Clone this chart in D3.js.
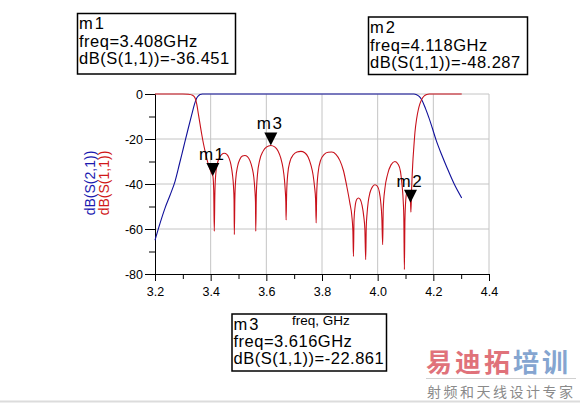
<!DOCTYPE html>
<html>
<head>
<meta charset="utf-8">
<script src="https://cdn.jsdelivr.net/npm/d3@7"></script>
<style>
  body { margin: 0; background: #fff; }
  svg { display: block; font-family: "Liberation Sans", Arial, sans-serif; }
</style>
</head>
<body>
<script>
'use strict';

var width = 580, height = 403;

// S21 trace (blue)
var s21Freq = [3.2, 3.218, 3.236, 3.254, 3.272, 3.288, 3.302, 3.318, 3.332, 3.342, 3.35, 3.356, 3.362, 3.37,
  3.4, 3.6, 3.8, 4.0, 4.13, 4.14, 4.15, 4.16, 4.172, 4.184, 4.196, 4.21, 4.23, 4.25, 4.275, 4.302];
var s21dB = [-65, -57.5, -50.7, -45, -38.8, -31, -24, -16, -9.2, -4.5, -1.8, -0.8, -0.2, 0,
  0, 0, 0, 0, 0, -0.3, -1.2, -3, -6.5, -10.5, -15, -20.5, -27, -33, -40, -46.2];

// S11 trace (red)
var s11Freq = [3.2, 3.3, 3.32, 3.335, 3.344, 3.35, 3.356, 3.362, 3.368, 3.374, 3.38, 3.386, 3.392, 3.398, 3.403, 3.408, 3.411, 3.413,
  3.415, 3.418, 3.424, 3.432, 3.44, 3.449, 3.458, 3.466, 3.473, 3.478, 3.482, 3.484, 3.485,
  3.487, 3.49, 3.497, 3.505, 3.514, 3.523, 3.532, 3.541, 3.549, 3.555, 3.559, 3.561, 3.562,
  3.564, 3.568, 3.576, 3.588, 3.6, 3.616, 3.63, 3.642, 3.652, 3.66, 3.665, 3.668, 3.67, 3.671,
  3.673, 3.677, 3.685, 3.697, 3.71, 3.724, 3.738, 3.75, 3.76, 3.768, 3.773, 3.777, 3.779,
  3.781, 3.786, 3.795, 3.808, 3.822, 3.835, 3.85, 3.864, 3.877, 3.889, 3.9, 3.907, 3.911, 3.913,
  3.915, 3.919, 3.925, 3.931, 3.937, 3.944, 3.95, 3.954, 3.957,
  3.959, 3.962, 3.966, 3.972, 3.98, 3.99, 3.999, 4.006, 4.011, 4.015, 4.018,
  4.02, 4.026, 4.035, 4.048, 4.062, 4.074, 4.082, 4.088, 4.092, 4.094, 4.096,
  4.098, 4.101, 4.106, 4.111, 4.115, 4.118, 4.1195, 4.122, 4.126, 4.13, 4.134, 4.14, 4.146, 4.152, 4.158, 4.166, 4.176, 4.185, 4.302];
var s11dB = [0, 0, -0.1, -0.6, -1.8, -4.5, -9, -13.5, -18, -22, -25.5, -28.7, -31.4, -33.5, -35.2, -36.45, -43, -61,
  -45, -36, -31, -28.2, -26.8, -26.3, -26.8, -28.5, -31.5, -35.5, -41, -47, -62.5,
  -46, -38, -32, -29, -27.6, -27.3, -27.8, -29.6, -32.8, -37, -43, -48, -61,
  -45, -36, -29.5, -25.5, -23.6, -22.86, -23.5, -25.3, -28.5, -33, -38, -43, -48, -56,
  -44, -35.5, -30, -27, -25.8, -25.5, -26.1, -28, -31.5, -36, -41, -47, -57.3,
  -44, -35, -29.5, -26.8, -25.9, -25.8, -26.8, -29.5, -34, -41, -48.4, -54, -61, -72.2,
  -56, -50, -46.8, -46.2, -46.8, -49.5, -54.4, -60, -73.6,
  -59, -53, -48, -44, -41.5, -40.3, -41, -43.5, -48, -55, -67,
  -51, -42, -36, -31.5, -30, -31.3, -34.5, -41, -48, -55, -78,
  -56, -47, -43, -43.5, -46, -48.3, -52.5, -42, -31, -23.5, -17, -11, -7, -4.3, -2.5, -1, -0.2, 0, 0];

// markers
var markerNames = ['m1', 'm2', 'm3'];
var markerFreq = [3.408, 4.118, 3.616];
var markerDB = [-36.451, -48.287, -22.861];

// ticks
var xMajor = [3.2, 3.4, 3.6, 3.8, 4.0, 4.2, 4.4];
var xMinor = [3.3, 3.5, 3.7, 3.9, 4.1, 4.3];
var yMajor = [-80, -60, -40, -20, 0];
var yMinor = [-70, -50, -30, -10];

var svg = d3.select('body').append('svg')
  .attr('width', width)
  .attr('height', height);

svg.append('rect').attr('width', width).attr('height', height).attr('fill', '#fff');

var x = d3.scaleLinear().domain([3.2, 4.4]).range([155, 489]);
var y = d3.scaleLinear().domain([-80, 0]).range([274, 94]);

// grid
svg.append('g').selectAll('line')
  .data(xMajor.slice(1))
  .enter().append('line')
  .attr('x1', function(d) { return x(d); })
  .attr('x2', function(d) { return x(d); })
  .attr('y1', y(0)).attr('y2', y(-80))
  .attr('stroke', '#c4c4c4');
svg.append('g').selectAll('line')
  .data(yMajor.slice(1))
  .enter().append('line')
  .attr('x1', x(3.2)).attr('x2', x(4.4))
  .attr('y1', function(d) { return y(d); })
  .attr('y2', function(d) { return y(d); })
  .attr('stroke', '#c4c4c4');

// axes
function styleAxis(g) {
  g.selectAll('line').attr('stroke', '#000');
  g.select('.domain').attr('stroke', '#000');
  g.selectAll('text').attr('fill', '#000').style('font-size', '12.5px')
    .style('font-family', '"Liberation Sans", Arial, sans-serif');
}

svg.append('g')
  .attr('transform', 'translate(0,' + y(-80) + ')')
  .call(d3.axisBottom(x).tickValues(xMajor).tickFormat(d3.format('.1f'))
    .tickSize(7).tickSizeOuter(0).tickPadding(6))
  .call(styleAxis);
svg.append('g')
  .attr('transform', 'translate(0,' + y(-80) + ')')
  .call(d3.axisBottom(x).tickValues(xMinor).tickFormat('').tickSize(5).tickSizeOuter(0))
  .call(styleAxis);

svg.append('g')
  .attr('transform', 'translate(' + x(3.2) + ',0)')
  .call(d3.axisLeft(y).tickValues(yMajor).tickFormat(function(d) { return String(d); })
    .tickSize(10).tickSizeOuter(0).tickPadding(2))
  .call(styleAxis);
svg.append('g')
  .attr('transform', 'translate(' + x(3.2) + ',0)')
  .call(d3.axisLeft(y).tickValues(yMinor).tickFormat('').tickSize(6).tickSizeOuter(0))
  .call(styleAxis);

// traces
var line = d3.line()
  .x(function(d) { return x(d[0]); })
  .y(function(d) { return y(d[1]); })
  .curve(d3.curveMonotoneX);

svg.append('path')
  .datum(d3.zip(s21Freq, s21dB))
  .attr('d', line)
  .attr('fill', 'none')
  .attr('stroke', '#10109a')
  .attr('stroke-width', 1.1);

svg.append('path')
  .datum(d3.zip(s11Freq, s11dB))
  .attr('d', line)
  .attr('fill', 'none')
  .attr('stroke', '#c8101a')
  .attr('stroke-width', 1.1);

// markers
var marker = svg.append('g').selectAll('g')
  .data(d3.range(markerNames.length))
  .enter().append('g')
  .attr('transform', function(i) {
    return 'translate(' + x(markerFreq[i]) + ',' + y(markerDB[i]) + ')';
  });
marker.append('path')
  .attr('d', 'M-6.5,-13L6.5,-13L0,0Z')
  .attr('fill', '#000');
marker.append('text')
  .attr('x', -14).attr('y', -16)
  .style('font-size', '17px')
  .style('letter-spacing', '1.5px')
  .text(function(i) { return markerNames[i]; });

// y axis titles
svg.append('text')
  .attr('transform', 'translate(95,183) rotate(-90)')
  .attr('text-anchor', 'middle')
  .attr('fill', '#1a1ab0')
  .style('font-size', '14px')
  .text('dB(S(2,1))');
svg.append('text')
  .attr('transform', 'translate(108.5,183) rotate(-90)')
  .attr('text-anchor', 'middle')
  .attr('fill', '#d01818')
  .style('font-size', '14px')
  .text('dB(S(1,1))');

// marker readout boxes
var boxes = [
  { i: 0, x: 77.5, y: 13.5, w: 158, h: 60.5, tx: 79, ty: [28.5, 46.5, 64] },
  { i: 1, x: 368.5, y: 17, w: 159, h: 57.5, tx: 370, ty: [33, 51, 68.3] },
  { i: 2, x: 232, y: 314, w: 154.5, h: 57, tx: 233.5, ty: [330, 347, 364] }
];
boxes.forEach(function(b) {
  var g = svg.append('g');
  g.append('rect')
    .attr('x', b.x).attr('y', b.y).attr('width', b.w).attr('height', b.h)
    .attr('fill', '#fff').attr('stroke', '#000').attr('stroke-width', 1.5);
  var lines = [markerNames[b.i],
    'freq=' + markerFreq[b.i].toFixed(3) + 'GHz',
    'dB(S(1,1))=' + markerDB[b.i].toFixed(3)];
  lines.forEach(function(t, k) {
    g.append('text')
      .attr('x', b.tx).attr('y', b.ty[k])
      .style('font-size', '16.5px')
      .style('letter-spacing', k === 0 ? '2px' : '0.5px')
      .text(t);
  });
});

// x axis title
svg.append('text')
  .attr('x', 321).attr('y', 325)
  .attr('text-anchor', 'middle')
  .style('font-size', '13.5px')
  .text('freq, GHz');

// watermark
var wm = svg.append('g').style('font-family', '"Noto Sans CJK SC", sans-serif');
var wmBig = wm.append('text')
  .attr('x', 426).attr('y', 372)
  .style('font-size', '26px')
  .style('font-weight', 'bold')
  .style('letter-spacing', '3px');
wmBig.append('tspan').attr('fill', '#e0727a').text('易迪拓');
wmBig.append('tspan').attr('fill', '#85a5d0').text('培训');
wm.append('line')
  .attr('x1', 426).attr('x2', 576).attr('y1', 378.5).attr('y2', 378.5)
  .attr('stroke', '#d0d0d0');
wm.append('text')
  .attr('x', 427).attr('y', 397)
  .attr('fill', '#8a8a8a')
  .style('font-size', '14px')
  .style('letter-spacing', '2.5px')
  .text('射频和天线设计专家');

svg.append('line')
  .attr('x1', 0).attr('x2', width).attr('y1', 401.5).attr('y2', 401.5)
  .attr('stroke', '#dcdcdc').attr('stroke-width', 2);
</script>
</body>
</html>
